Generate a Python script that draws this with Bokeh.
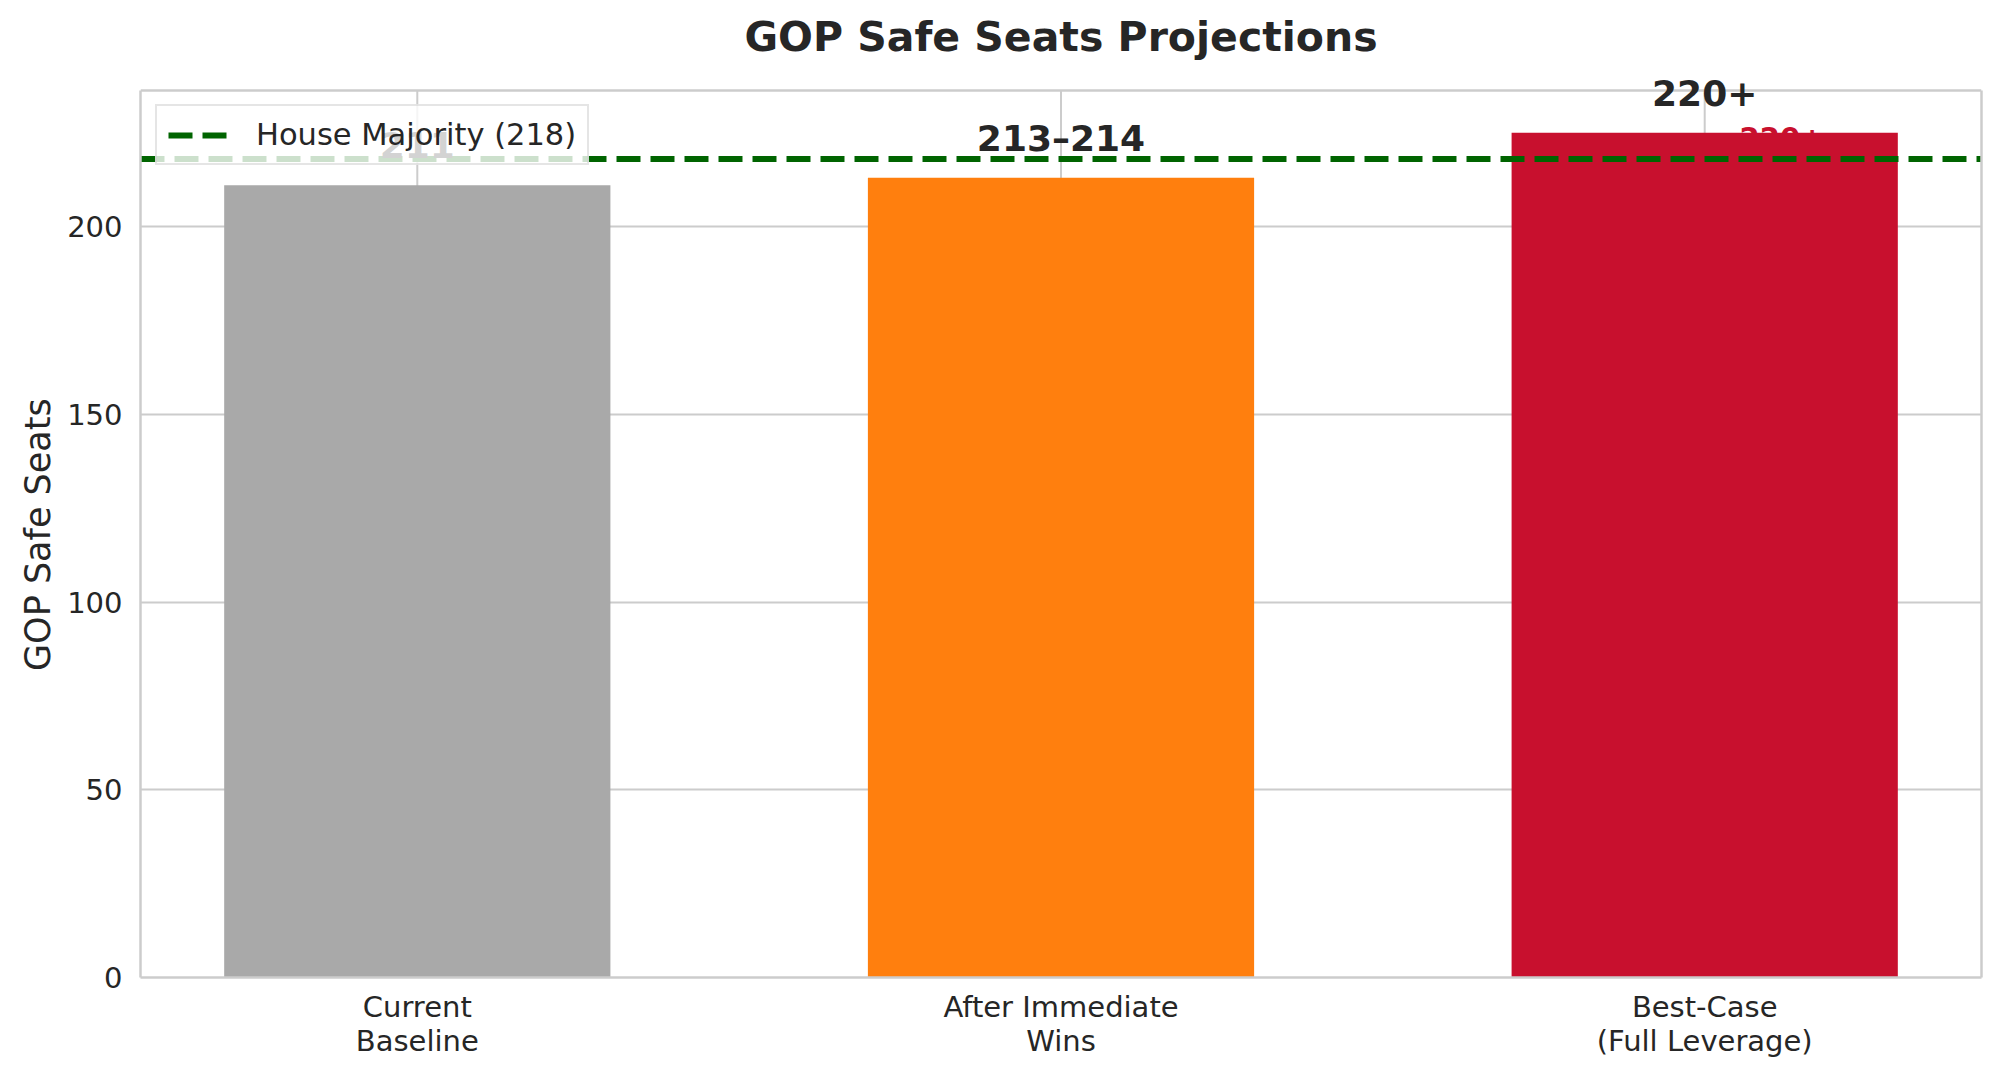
from bokeh.plotting import figure
from bokeh.models import (Range1d, FixedTicker, Legend, LegendItem, ColumnDataSource,
                          LabelSet, LinearAxis, Span, Title)
from bokeh.core.properties import value
from bokeh.embed import file_html
from bokeh.resources import INLINE

# ---- data ----
categories = ["Current\nBaseline", "After Immediate\nWins", "Best-Case\n(Full Leverage)"]
seats = [211, 213, 225]
bar_labels = ["211", "213–214", "220+"]
bar_colors = ["#A9A9A9", "#FF7F0E", "#C8102E"]
majority = 218
majority_label = "House Majority (218)"
y_ticks = [0, 50, 100, 150, 200]
y_axis_title = "GOP Safe Seats"
side_label = ["220+"]
side_label_x = [2.12]
side_label_y = [223.7]
label_offset = 7.2

FONT = "DejaVu Sans"
TXT = "#262626"
GRID = "#cccccc"

# ---- layout numbers ----
AX_H = 888          # visible axes-box height in px
EXTRA = 30          # headroom above the axes box, so labels there are not clipped
xs = list(range(len(categories)))
x_lo, x_hi = -0.43, len(categories) - 1 + 0.43
y_hi = max(seats) * 1.05
y_top = y_hi * (AX_H + EXTRA) / AX_H

p = figure(width=1984, height=1061, output_backend="svg", toolbar_location=None,
           x_range=Range1d(x_lo, x_hi), y_range=Range1d(0, y_top),
           min_border_left=140, min_border_right=3, min_border_top=90 - EXTRA,
           min_border_bottom=84)

p.background_fill_color = "white"
p.border_fill_color = "white"
p.outline_line_color = None

# top spine of the visible axes box
p.add_layout(Span(location=y_hi, dimension="width", line_color=GRID, line_width=2.5,
                  level="underlay"))

# vertical grid lines, limited to the visible axes box
p.segment(x0=xs, x1=xs, y0=[0] * len(xs), y1=[y_hi] * len(xs),
          line_color=GRID, line_width=2, level="underlay")

# red side label (drawn beneath bars)
p.text(x=side_label_x, y=side_label_y, text=side_label, text_color="#C8102E",
       text_font=value(FONT), text_font_style="bold", text_font_size="29px",
       text_align="center", text_baseline="alphabetic")

src = ColumnDataSource(dict(x=xs, top=seats, color=bar_colors,
                            ly=[s + label_offset for s in seats], lab=bar_labels))
p.vbar(x="x", top="top", width=0.6, bottom=0, fill_color="color", line_color=None, source=src)

labels = LabelSet(x="x", y="ly", text="lab", source=src, text_color=TXT,
                  text_font=value(FONT), text_font_style="bold", text_font_size="36px",
                  text_align="center", text_baseline="alphabetic")
p.add_layout(labels)

line_r = p.line(x=[x_lo, x_hi], y=[majority, majority], line_color="#006400",
                line_width=6, line_dash="24 10")

legend = Legend(items=[LegendItem(label=majority_label, renderers=[line_r])],
                location=(15, AX_H - 15 - 61), padding=11, spacing=0,
                glyph_width=59, glyph_height=20, label_standoff=29,
                label_text_font=FONT, label_text_font_size="30.5px", label_text_color=TXT,
                border_line_color=GRID, border_line_width=2,
                background_fill_color="white", background_fill_alpha=0.8)
p.add_layout(legend)

# axes (left and bottom)
xax = p.xaxis[0]
yax = p.yaxis[0]
xax.ticker = FixedTicker(ticks=xs)
xax.major_label_overrides = {i: c for i, c in enumerate(categories)}
yax.ticker = FixedTicker(ticks=y_ticks)
for ax in (xax, yax):
    ax.axis_line_color = GRID
    ax.axis_line_width = 2.5
    ax.major_tick_line_color = None
    ax.minor_tick_line_color = None
    ax.major_tick_out = 0
    ax.minor_tick_out = 0
    ax.major_label_text_font = FONT
    ax.major_label_text_font_size = "29px"
    ax.major_label_text_color = TXT
yax.bounds = (0, y_hi)
xax.major_label_standoff = 12
xax.major_label_text_line_height = 1.0
yax.major_label_standoff = 18

# right spine (no ticks, no labels)
right = LinearAxis(ticker=FixedTicker(ticks=[]), bounds=(0, y_hi),
                   axis_line_color=GRID, axis_line_width=2.5,
                   major_tick_line_color=None, minor_tick_line_color=None,
                   major_tick_out=0, minor_tick_out=0, major_label_standoff=0)
p.add_layout(right, "right")

# y-axis title, centred on the visible axes box
label_len = 275
ytitle = Title(text=y_axis_title, align="left", offset=AX_H / 2 - label_len / 2,
               text_font=FONT, text_font_size="35px", text_font_style="normal",
               text_color=TXT, standoff=14)
p.add_layout(ytitle, "left")

p.ygrid.ticker = FixedTicker(ticks=y_ticks)
p.xgrid.visible = False
p.ygrid.grid_line_color = GRID
p.ygrid.grid_line_width = 2

p.title.text = "GOP Safe Seats Projections"
p.title.text_font = FONT
p.title.text_font_size = "41px"
p.title.text_font_style = "bold"
p.title.text_color = TXT
p.title.align = "center"
p.title.standoff = 0

open("out.html", "w").write(file_html(p, INLINE))
